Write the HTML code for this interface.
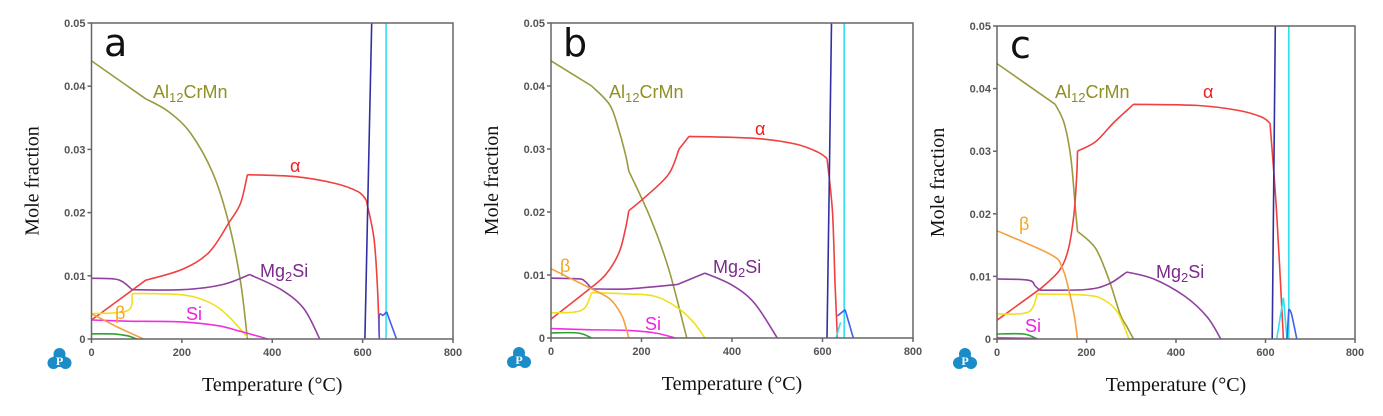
<!DOCTYPE html>
<html><head><meta charset="utf-8"><style>
html,body{margin:0;padding:0;background:#fff;width:1383px;height:416px;overflow:hidden}
svg{display:block}
.tk{font-family:"Liberation Sans",sans-serif;font-size:11px;font-weight:bold;fill:#555}
.ax{font-family:"Liberation Serif",serif;font-size:20px;fill:#111}
.lb{font-family:"Liberation Sans",sans-serif;font-size:18px}
.big{font-family:"DejaVu Sans","Liberation Sans",sans-serif;font-size:38px;fill:#111}
</style></head><body>
<svg id="s" width="1383" height="416" xmlns="http://www.w3.org/2000/svg"></svg>
<script>
const S=document.getElementById('s');let h='';
const OL='#9a9a40',RD='#f04040',PU='#9040a0',YE='#f0e020',MA='#f030e0',OR='#f5a040',GR='#30a030',NV='#3030a0',CY='#30e0f0',BL='#4060f0';
const panels=[
{x0:91.5,x1:453,yt:23,yb:339,L:'a',lp:[104,56],
 lab:[['Al','12','CrMn',153,98,'#8f8f25'],['α','','',290,172,'#f02020'],['Mg','2','Si',260,277,'#7a2a8a'],['β','','',115,319,'#f5a623'],['Si','','',186,320,'#f020e0']],
 s:[
 [OL,[[[0,.044],[120,.038]],[[120,.038],[170,.036],[220,.0325],[270,.026],[305,.018],[330,.009],[345,0]]]],
 [RD,[[[0,.003],[120,.0093]],[[120,.0093],[200,.011],[260,.0137],[305,.0185],[330,.0215],[345,.026]],[[345,.026],[450,.0257],[540,.0246],[590,.0233],[608,.022]],[[608,.022],[625,.016],[633,.008],[637,0]]]],
 [PU,[[[0,.0096],[50,.0095],[70,.009],[90,.0078]],[[90,.0078],[200,.0078],[290,.0086],[350,.0102]],[[350,.0102],[420,.0078],[470,.0048],[505,0]]]],
 [YE,[[[0,.004],[80,.0045],[90,.0072]],[[90,.0072],[200,.007],[260,.0058],[300,.0038],[345,.0003]]]],
 [MA,[[[0,.003],[90,.0028]],[[90,.0028],[200,.0027],[280,.0021],[330,.0012],[390,0]]]],
 [OR,[[[0,.004],[60,.0018],[115,0]]]],
 [GR,[[[0,.0008],[50,.0008],[80,.0005],[100,0]]]],
 [NV,[[[605,0],[620,.05]]]],
 [CY,[[[652,0],[652,.05]]]],
 [BL,[[[637,0],[637,.0037],[645,.0037]],[[645,.0037],[653,.0043]],[[653,.0043],[675,0]]]]]},
{x0:551,x1:913,yt:23,yb:338,L:'b',lp:[563,56],
 lab:[['Al','12','CrMn',609,98,'#8f8f25'],['α','','',755,135,'#f02020'],['Mg','2','Si',713,273,'#7a2a8a'],['β','','',560,272,'#f5a623'],['Si','','',645,330,'#f020e0']],
 s:[
 [OL,[[[0,.044],[90,.04]],[[90,.04],[130,.037],[150,.033],[165,.029],[172,.0265]],[[172,.0265],[220,.019],[260,.011],[300,0]]]],
 [RD,[[[0,.003],[80,.0075]],[[80,.0075],[120,.01],[150,.0135],[165,.0175],[172,.0202]],[[172,.0202],[210,.0225],[260,.026],[283,.030]],[[283,.030],[305,.032]],[[305,.032],[450,.0317],[540,.0308],[590,.0295],[610,.0285]],[[610,.0285],[622,.02],[628,.008],[633,0]]]],
 [PU,[[[0,.0095],[60,.0094],[75,.009],[90,.0078]],[[90,.0078],[170,.0078],[280,.0085]],[[280,.0085],[340,.0103]],[[340,.0103],[400,.0084],[450,.0055],[500,0]]]],
 [YE,[[[0,.004],[50,.0041],[75,.0048],[90,.0072]],[[90,.0072],[170,.007],[230,.0066],[280,.0048],[315,.0025],[340,0]]]],
 [MA,[[[0,.0015],[90,.0013]],[[90,.0013],[170,.0012],[230,.0008],[275,0]]]],
 [OR,[[[0,.011],[90,.0078]],[[90,.0078],[130,.0062],[155,.0038],[165,.0018],[172,0]]]],
 [GR,[[[0,.0008],[60,.0008],[90,0]]]],
 [NV,[[[610,0],[620,.05]]]],
 [CY,[[[648,0],[648,.05]]]],
 [CY,[[[630,0],[640,.0025]]]],
 [BL,[[[633,.0035],[650,.0045]],[[650,.0045],[668,0]]]]]},
{x0:997,x1:1355,yt:26,yb:339,L:'c',lp:[1010,58],
 lab:[['Al','12','CrMn',1055,98,'#8f8f25'],['α','','',1203,98,'#f02020'],['Mg','2','Si',1156,278,'#7a2a8a'],['β','','',1019,230,'#f5a623'],['Si','','',1025,332,'#f020e0']],
 s:[
 [OL,[[[0,.044],[130,.0375]],[[130,.0375],[150,.0345],[165,.029],[175,.021],[180,.0172]],[[180,.0172],[220,.0145],[250,.0095],[275,.004],[290,.002]],[[290,.002],[305,0]]]],
 [RD,[[[0,.003],[100,.0082]],[[100,.0082],[140,.011],[160,.0145],[172,.02],[178,.026],[180,.030]],[[180,.030],[220,.0315],[260,.0345],[290,.0365],[305,.0375]],[[305,.0375],[450,.0373],[540,.0365],[590,.0355],[610,.0345]],[[610,.0345],[625,.02],[640,0]]]],
 [PU,[[[0,.0096],[70,.0094],[85,.0085],[95,.0078]],[[95,.0078],[200,.0079],[250,.0088],[290,.0107]],[[290,.0107],[350,.0096],[420,.0068],[470,.0035],[500,0]]]],
 [YE,[[[0,.004],[70,.0043],[90,.0072]],[[90,.0072],[200,.007],[240,.0062],[270,.0042],[295,0]]]],
 [OR,[[[0,.0173],[120,.0135],[145,.0115],[160,.008],[172,.004],[180,0]]]],
 [MA,[[[0,.0002],[90,.0001]]]],
 [GR,[[[0,.0008],[60,.0008],[90,0]]]],
 [NV,[[[615,0],[622,.05]]]],
 [CY,[[[652,0],[652,.05]]]],
 [CY,[[[625,0],[640,.0066]],[[640,.0066],[648,0]]]],
 [BL,[[[648,0],[652,.0048]],[[652,.0048],[658,.004],[670,0]]]]]}];
function smooth(P){
 let d='M'+P[0][0].toFixed(1)+','+P[0][1].toFixed(1);
 for(let i=0;i<P.length-1;i++){
  const p0=P[Math.max(i-1,0)],p1=P[i],p2=P[i+1],p3=P[Math.min(i+2,P.length-1)];
  const c1=[p1[0]+(p2[0]-p0[0])/6,p1[1]+(p2[1]-p0[1])/6],c2=[p2[0]-(p3[0]-p1[0])/6,p2[1]-(p3[1]-p1[1])/6];
  d+=`C${c1[0].toFixed(1)},${c1[1].toFixed(1)} ${c2[0].toFixed(1)},${c2[1].toFixed(1)} ${p2[0].toFixed(1)},${p2[1].toFixed(1)}`;
 }
 return d;
}
for(const p of panels){
 const X=t=>p.x0+(p.x1-p.x0)*t/800, Y=v=>p.yb-(p.yb-p.yt)*v/0.05;
 for(const [c,segs] of p.s){let d='';for(const sg of segs){d+=smooth(sg.map(q=>[X(q[0]),Y(q[1])]));}
  h+=`<path fill="none" stroke="${c}" stroke-width="1.6" stroke-linejoin="round" d="${d}"/>`;}
 h+=`<rect x="${p.x0}" y="${p.yt}" width="${p.x1-p.x0}" height="${p.yb-p.yt}" fill="none" stroke="#666" stroke-width="1.5"/>`;
 for(let i=0;i<=5;i++){const y=Y(i*0.01);h+=`<line x1="${p.x0-4}" x2="${p.x0}" y1="${y}" y2="${y}" stroke="#666" stroke-width="1.5"/><text class="tk" x="${p.x0-6}" y="${y+4}" text-anchor="end">${i==0?'0':(i*0.01).toFixed(2)}</text>`;}
 for(let i=0;i<=4;i++){const x=X(i*200);h+=`<line x1="${x}" x2="${x}" y1="${p.yb}" y2="${p.yb+4}" stroke="#666" stroke-width="1.5"/><text class="tk" x="${x}" y="${p.yb+17}" text-anchor="middle">${i*200}</text>`;}
 const cx=(p.x0+p.x1)/2;
 h+=`<text class="ax" x="${cx}" y="${p.yb+52}" text-anchor="middle">Temperature (°C)</text>`;
 h+=`<text class="ax" transform="translate(${p.x0-53},${(p.yt+p.yb)/2}) rotate(-90)" text-anchor="middle">Mole fraction</text>`;
 h+=`<text class="big" x="${p.lp[0]}" y="${p.lp[1]}">${p.L}</text>`;
 for(const [a,sub,b,x,y,c] of p.lab){h+=`<text class="lb" x="${x}" y="${y}" fill="${c}">${a}${sub?`<tspan font-size="13" dy="4">${sub}</tspan><tspan dy="-4">${b}</tspan>`:b}</text>`;}
 const lx=p.x0-32,ly=p.yb+20;
 h+=`<g fill="#1a8cc8"><circle cx="${lx}" cy="${ly-5}" r="6"/><circle cx="${lx-6}" cy="${ly+4}" r="6"/><circle cx="${lx+6}" cy="${ly+4}" r="6"/><circle cx="${lx}" cy="${ly+1}" r="7"/></g><text x="${lx}" y="${ly+6}" font-family="Liberation Serif,serif" font-weight="bold" font-size="12" fill="#fff" text-anchor="middle">P</text>`;
}
S.innerHTML=h;
</script>
</body></html>
